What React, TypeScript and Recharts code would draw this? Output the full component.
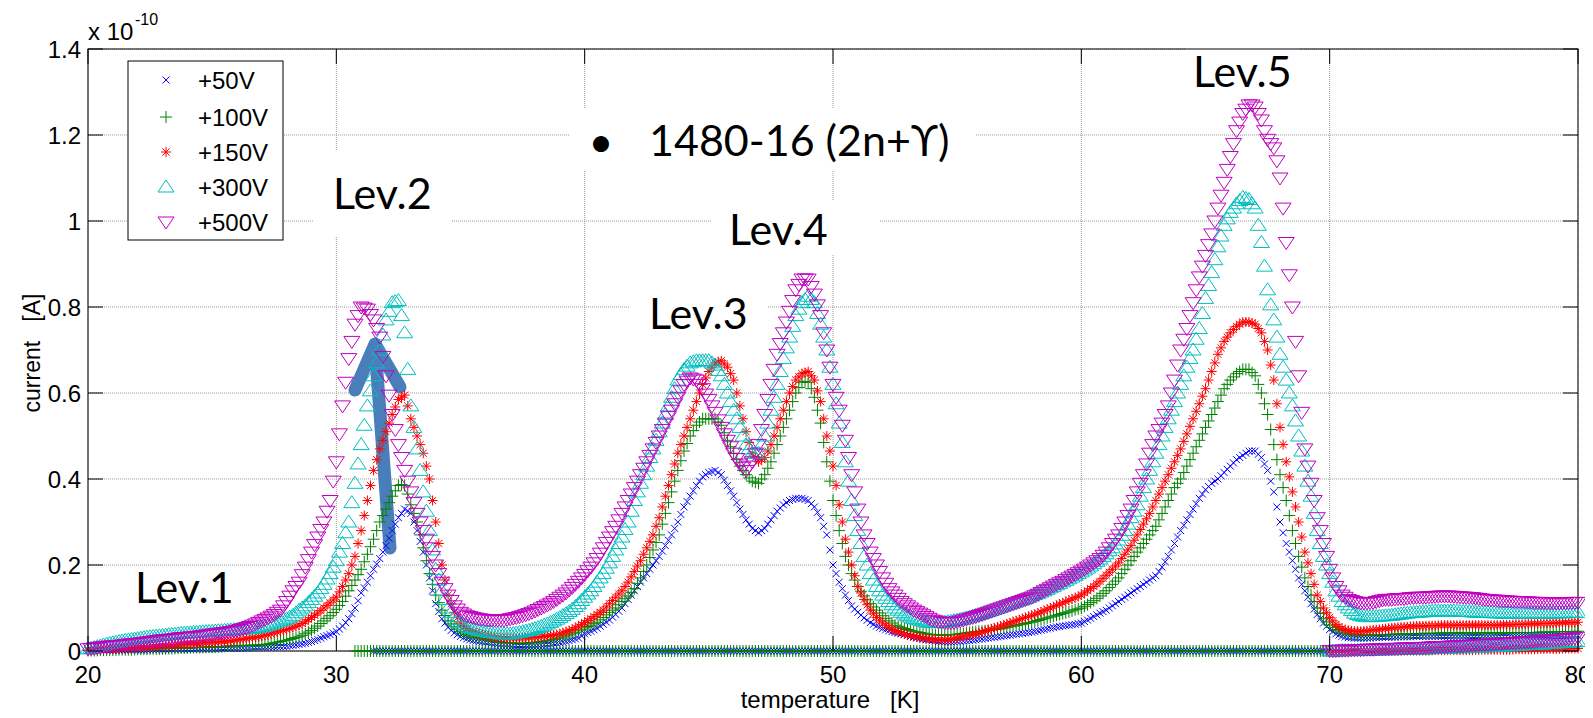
import React from 'react';
import { ScatterChart, Scatter, XAxis, YAxis, CartesianGrid, Customized } from 'recharts';

// temperature grid [K], 1/8 K sampling, one row per kelvin
const TEMPS = [
  20, 20.125, 20.25, 20.375, 20.5, 20.625, 20.75, 20.875,
  21, 21.125, 21.25, 21.375, 21.5, 21.625, 21.75, 21.875,
  22, 22.125, 22.25, 22.375, 22.5, 22.625, 22.75, 22.875,
  23, 23.125, 23.25, 23.375, 23.5, 23.625, 23.75, 23.875,
  24, 24.125, 24.25, 24.375, 24.5, 24.625, 24.75, 24.875,
  25, 25.125, 25.25, 25.375, 25.5, 25.625, 25.75, 25.875,
  26, 26.125, 26.25, 26.375, 26.5, 26.625, 26.75, 26.875,
  27, 27.125, 27.25, 27.375, 27.5, 27.625, 27.75, 27.875,
  28, 28.125, 28.25, 28.375, 28.5, 28.625, 28.75, 28.875,
  29, 29.125, 29.25, 29.375, 29.5, 29.625, 29.75, 29.875,
  30, 30.125, 30.25, 30.375, 30.5, 30.625, 30.75, 30.875,
  31, 31.125, 31.25, 31.375, 31.5, 31.625, 31.75, 31.875,
  32, 32.125, 32.25, 32.375, 32.5, 32.625, 32.75, 32.875,
  33, 33.125, 33.25, 33.375, 33.5, 33.625, 33.75, 33.875,
  34, 34.125, 34.25, 34.375, 34.5, 34.625, 34.75, 34.875,
  35, 35.125, 35.25, 35.375, 35.5, 35.625, 35.75, 35.875,
  36, 36.125, 36.25, 36.375, 36.5, 36.625, 36.75, 36.875,
  37, 37.125, 37.25, 37.375, 37.5, 37.625, 37.75, 37.875,
  38, 38.125, 38.25, 38.375, 38.5, 38.625, 38.75, 38.875,
  39, 39.125, 39.25, 39.375, 39.5, 39.625, 39.75, 39.875,
  40, 40.125, 40.25, 40.375, 40.5, 40.625, 40.75, 40.875,
  41, 41.125, 41.25, 41.375, 41.5, 41.625, 41.75, 41.875,
  42, 42.125, 42.25, 42.375, 42.5, 42.625, 42.75, 42.875,
  43, 43.125, 43.25, 43.375, 43.5, 43.625, 43.75, 43.875,
  44, 44.125, 44.25, 44.375, 44.5, 44.625, 44.75, 44.875,
  45, 45.125, 45.25, 45.375, 45.5, 45.625, 45.75, 45.875,
  46, 46.125, 46.25, 46.375, 46.5, 46.625, 46.75, 46.875,
  47, 47.125, 47.25, 47.375, 47.5, 47.625, 47.75, 47.875,
  48, 48.125, 48.25, 48.375, 48.5, 48.625, 48.75, 48.875,
  49, 49.125, 49.25, 49.375, 49.5, 49.625, 49.75, 49.875,
  50, 50.125, 50.25, 50.375, 50.5, 50.625, 50.75, 50.875,
  51, 51.125, 51.25, 51.375, 51.5, 51.625, 51.75, 51.875,
  52, 52.125, 52.25, 52.375, 52.5, 52.625, 52.75, 52.875,
  53, 53.125, 53.25, 53.375, 53.5, 53.625, 53.75, 53.875,
  54, 54.125, 54.25, 54.375, 54.5, 54.625, 54.75, 54.875,
  55, 55.125, 55.25, 55.375, 55.5, 55.625, 55.75, 55.875,
  56, 56.125, 56.25, 56.375, 56.5, 56.625, 56.75, 56.875,
  57, 57.125, 57.25, 57.375, 57.5, 57.625, 57.75, 57.875,
  58, 58.125, 58.25, 58.375, 58.5, 58.625, 58.75, 58.875,
  59, 59.125, 59.25, 59.375, 59.5, 59.625, 59.75, 59.875,
  60, 60.125, 60.25, 60.375, 60.5, 60.625, 60.75, 60.875,
  61, 61.125, 61.25, 61.375, 61.5, 61.625, 61.75, 61.875,
  62, 62.125, 62.25, 62.375, 62.5, 62.625, 62.75, 62.875,
  63, 63.125, 63.25, 63.375, 63.5, 63.625, 63.75, 63.875,
  64, 64.125, 64.25, 64.375, 64.5, 64.625, 64.75, 64.875,
  65, 65.125, 65.25, 65.375, 65.5, 65.625, 65.75, 65.875,
  66, 66.125, 66.25, 66.375, 66.5, 66.625, 66.75, 66.875,
  67, 67.125, 67.25, 67.375, 67.5, 67.625, 67.75, 67.875,
  68, 68.125, 68.25, 68.375, 68.5, 68.625, 68.75, 68.875,
  69, 69.125, 69.25, 69.375, 69.5, 69.625, 69.75, 69.875,
  70, 70.125, 70.25, 70.375, 70.5, 70.625, 70.75, 70.875,
  71, 71.125, 71.25, 71.375, 71.5, 71.625, 71.75, 71.875,
  72, 72.125, 72.25, 72.375, 72.5, 72.625, 72.75, 72.875,
  73, 73.125, 73.25, 73.375, 73.5, 73.625, 73.75, 73.875,
  74, 74.125, 74.25, 74.375, 74.5, 74.625, 74.75, 74.875,
  75, 75.125, 75.25, 75.375, 75.5, 75.625, 75.75, 75.875,
  76, 76.125, 76.25, 76.375, 76.5, 76.625, 76.75, 76.875,
  77, 77.125, 77.25, 77.375, 77.5, 77.625, 77.75, 77.875,
  78, 78.125, 78.25, 78.375, 78.5, 78.625, 78.75, 78.875,
  79, 79.125, 79.25, 79.375, 79.5, 79.625, 79.75, 79.875,
  80,
];

// current [x 1e-10 A], one row per kelvin
const I_50V = [
  .001, .001, .001, .001, .001, .001, .001, .001, // 20
  .001, .0015, .002, .002, .002, .002, .002, .002, // 21
  .002, .002, .002, .0025, .003, .003, .003, .003, // 22
  .003, .003, .003, .0035, .004, .004, .004, .004, // 23
  .004, .004, .004, .0045, .005, .005, .005, .005, // 24
  .005, .005, .005, .0055, .006, .006, .006, .006, // 25
  .006, .0065, .007, .007, .007, .0075, .008, .008, // 26
  .008, .0085, .009, .0095, .01, .01, .01, .0105, // 27
  .011, .012, .013, .014, .015, .0165, .018, .02, // 28
  .022, .0245, .027, .03, .033, .0355, .038, .0415, // 29
  .045, .051, .058, .066, .075, .087, .1, .117, // 30
  .135, .147, .16, .175, .19, .202, .215, .23, // 31
  .245, .262, .28, .295, .31, .32, .33, .326, // 32
  .32, .3, .28, .255, .23, .2, .17, .14, // 33
  .11, .092, .075, .065, .055, .048, .042, .038, // 34
  .034, .031, .028, .026, .024, .023, .022, .021, // 35
  .02, .019, .018, .017, .016, .0155, .015, .0145, // 36
  .014, .0135, .013, .013, .013, .013, .013, .013, // 37
  .013, .0135, .014, .0145, .015, .016, .017, .018, // 38
  .019, .0205, .022, .024, .026, .028, .03, .035, // 39
  .04, .043, .046, .0495, .053, .0575, .062, .067, // 40
  .072, .0785, .085, .0925, .1, .11, .12, .13, // 41
  .14, .15, .16, .17, .18, .19, .2, .21, // 42
  .22, .2325, .245, .2575, .27, .285, .3, .3175, // 43
  .335, .3475, .36, .3725, .385, .395, .405, .41, // 44
  .415, .4175, .42, .415, .41, .3975, .385, .3725, // 45
  .36, .345, .33, .3175, .305, .295, .285, .28, // 46
  .275, .28, .285, .295, .305, .315, .325, .3325, // 47
  .34, .345, .35, .3525, .355, .355, .355, .3525, // 48
  .35, .3425, .335, .3225, .31, .29, .27, .235, // 49
  .2, .18, .16, .145, .13, .1175, .105, .0975, // 50
  .09, .0835, .077, .0715, .066, .062, .058, .055, // 51
  .052, .0495, .047, .045, .043, .0415, .04, .038, // 52
  .036, .034, .032, .0305, .029, .0275, .026, .025, // 53
  .024, .023, .022, .0215, .021, .021, .021, .0215, // 54
  .022, .0225, .023, .0235, .024, .025, .026, .027, // 55
  .028, .029, .03, .031, .032, .033, .034, .035, // 56
  .036, .037, .038, .039, .04, .041, .042, .043, // 57
  .044, .0455, .047, .0485, .05, .0515, .053, .0545, // 58
  .056, .057, .058, .059, .06, .061, .062, .0635, // 59
  .065, .0685, .072, .076, .08, .084, .088, .0915, // 60
  .095, .1, .105, .11, .115, .12, .125, .13, // 61
  .135, .14, .145, .15, .155, .16, .165, .17, // 62
  .175, .185, .195, .2075, .22, .235, .25, .265, // 63
  .28, .2925, .305, .3175, .33, .3425, .355, .365, // 64
  .375, .3825, .39, .395, .4, .4075, .415, .4225, // 65
  .43, .4375, .445, .45, .455, .46, .465, .465, // 66
  .465, .4575, .45, .435, .42, .395, .37, .335, // 67
  .3, .275, .25, .23, .21, .19, .17, .155, // 68
  .14, .125, .11, .0975, .085, .075, .065, .0575, // 69
  .05, .045, .04, .037, .034, .0325, .031, .0305, // 70
  .03, .03, .03, .03, .03, .0305, .031, .031, // 71
  .031, .0315, .032, .032, .032, .0325, .033, .033, // 72
  .033, .033, .033, .0335, .034, .034, .034, .034, // 73
  .034, .034, .034, .034, .034, .034, .034, .034, // 74
  .034, .034, .034, .034, .034, .034, .034, .034, // 75
  .034, .034, .034, .034, .034, .034, .034, .034, // 76
  .034, .034, .034, .0345, .035, .035, .035, .035, // 77
  .035, .035, .035, .035, .035, .035, .035, .035, // 78
  .035, .0355, .036, .036, .036, .036, .036, .036, // 79
  .036,
];

const I_100V = [
  .001, .001, .001, .0015, .002, .002, .002, .002, // 20
  .002, .0025, .003, .003, .003, .003, .003, .0035, // 21
  .004, .004, .004, .0045, .005, .005, .005, .005, // 22
  .005, .0055, .006, .006, .006, .0065, .007, .007, // 23
  .007, .0075, .008, .008, .008, .0085, .009, .009, // 24
  .009, .0095, .01, .0105, .011, .0115, .012, .012, // 25
  .012, .0125, .013, .013, .013, .0135, .014, .014, // 26
  .014, .015, .016, .0175, .019, .0205, .022, .0235, // 27
  .025, .027, .029, .031, .033, .0365, .04, .044, // 28
  .048, .053, .058, .064, .07, .076, .082, .0895, // 29
  .097, .106, .115, .1275, .14, .1525, .165, .1775, // 30
  .19, .2075, .225, .2425, .26, .28, .3, .315, // 31
  .33, .345, .36, .3725, .385, .387, .385, .365, // 32
  .34, .32, .3, .27, .24, .21, .18, .155, // 33
  .13, .1125, .095, .0825, .07, .063, .056, .0505, // 34
  .045, .0415, .038, .0355, .033, .0315, .03, .0285, // 35
  .027, .0255, .024, .023, .022, .021, .02, .0195, // 36
  .019, .0185, .018, .018, .018, .0185, .019, .0195, // 37
  .02, .021, .022, .023, .024, .0255, .027, .0285, // 38
  .03, .0325, .035, .0375, .04, .0435, .047, .0505, // 39
  .054, .057, .06, .0635, .067, .0725, .078, .084, // 40
  .09, .095, .1, .1075, .115, .1215, .128, .1365, // 41
  .145, .1575, .17, .185, .2, .2175, .235, .2525, // 42
  .27, .295, .32, .345, .37, .395, .42, .4425, // 43
  .465, .4825, .5, .5125, .525, .5325, .54, .54, // 44
  .54, .54, .54, .5325, .525, .5075, .49, .475, // 45
  .46, .445, .43, .42, .41, .4025, .395, .3925, // 46
  .39, .4, .41, .425, .44, .46, .48, .5, // 47
  .52, .54, .56, .58, .6, .6125, .625, .627, // 48
  .625, .61, .59, .56, .53, .485, .44, .395, // 49
  .35, .315, .28, .25, .22, .2, .18, .165, // 50
  .15, .139, .128, .119, .11, .1025, .095, .0885, // 51
  .082, .076, .07, .065, .06, .0575, .055, .0525, // 52
  .05, .048, .046, .0445, .043, .0415, .04, .039, // 53
  .038, .0375, .037, .037, .037, .0375, .038, .0385, // 54
  .039, .04, .041, .042, .043, .044, .045, .0455, // 55
  .046, .047, .048, .049, .05, .051, .052, .0535, // 56
  .055, .0565, .058, .0595, .061, .0625, .064, .0655, // 57
  .067, .069, .071, .073, .075, .077, .079, .081, // 58
  .083, .085, .087, .089, .091, .0935, .096, .098, // 59
  .1, .104, .108, .1125, .117, .1225, .128, .134, // 60
  .14, .1475, .155, .1625, .17, .18, .19, .2, // 61
  .21, .22, .23, .24, .25, .26, .27, .28, // 62
  .29, .305, .32, .335, .35, .365, .38, .39, // 63
  .4, .415, .43, .445, .46, .475, .49, .505, // 64
  .52, .535, .55, .565, .58, .595, .61, .62, // 65
  .63, .6375, .645, .65, .655, .655, .655, .6475, // 66
  .64, .62, .6, .575, .55, .515, .48, .445, // 67
  .41, .38, .35, .315, .28, .25, .22, .195, // 68
  .17, .15, .13, .115, .1, .0875, .075, .0675, // 69
  .06, .055, .05, .047, .044, .042, .04, .039, // 70
  .038, .0375, .037, .037, .037, .037, .037, .0375, // 71
  .038, .038, .038, .0385, .039, .039, .039, .0395, // 72
  .04, .04, .04, .04, .04, .0405, .041, .041, // 73
  .041, .041, .041, .0415, .042, .042, .042, .042, // 74
  .042, .042, .042, .042, .042, .042, .042, .042, // 75
  .042, .042, .042, .042, .042, .042, .042, .042, // 76
  .042, .042, .042, .0425, .043, .043, .043, .043, // 77
  .043, .043, .043, .0435, .044, .044, .044, .044, // 78
  .044, .0445, .045, .045, .045, .045, .045, .0455, // 79
  .046,
];

const I_150V = [
  .002, .0025, .003, .003, .003, .0035, .004, .004, // 20
  .004, .0045, .005, .0055, .006, .0065, .007, .0075, // 21
  .008, .0085, .009, .0095, .01, .0105, .011, .0115, // 22
  .012, .0125, .013, .0135, .014, .0145, .015, .0155, // 23
  .016, .0165, .017, .0175, .018, .0185, .019, .0195, // 24
  .02, .0205, .021, .0215, .022, .023, .024, .025, // 25
  .026, .027, .028, .029, .03, .031, .032, .0335, // 26
  .035, .0365, .038, .04, .042, .044, .046, .048, // 27
  .05, .0525, .055, .0575, .06, .064, .068, .073, // 28
  .078, .083, .088, .094, .1, .106, .112, .1185, // 29
  .125, .1375, .15, .165, .18, .2, .22, .25, // 30
  .28, .315, .35, .385, .42, .445, .47, .49, // 31
  .51, .53, .55, .5675, .585, .59, .595, .57, // 32
  .54, .52, .5, .48, .46, .43, .4, .35, // 33
  .3, .25, .2, .165, .13, .11, .09, .0775, // 34
  .065, .0585, .052, .0485, .045, .0425, .04, .038, // 35
  .036, .0345, .033, .032, .031, .0305, .03, .03, // 36
  .03, .03, .03, .03, .03, .0305, .031, .0315, // 37
  .032, .0325, .033, .034, .035, .036, .037, .0385, // 38
  .04, .0425, .045, .0475, .05, .054, .058, .062, // 39
  .066, .0705, .075, .08, .085, .09, .095, .1025, // 40
  .11, .1175, .125, .1325, .14, .15, .16, .1725, // 41
  .185, .1975, .21, .225, .24, .255, .27, .29, // 42
  .31, .335, .36, .385, .41, .435, .46, .48, // 43
  .5, .52, .54, .56, .58, .6, .62, .635, // 44
  .65, .66, .67, .6725, .675, .6675, .66, .645, // 45
  .63, .6, .57, .54, .51, .485, .46, .45, // 46
  .44, .445, .45, .465, .48, .5, .52, .54, // 47
  .56, .58, .6, .615, .63, .6375, .645, .6475, // 48
  .65, .64, .63, .605, .58, .54, .5, .465, // 49
  .43, .385, .34, .3, .26, .23, .2, .175, // 50
  .15, .135, .12, .1075, .095, .0865, .078, .0715, // 51
  .065, .06, .055, .051, .047, .0445, .042, .0395, // 52
  .037, .0355, .034, .0325, .031, .03, .029, .028, // 53
  .027, .0265, .026, .026, .026, .0265, .027, .0285, // 54
  .03, .0315, .033, .035, .037, .0385, .04, .042, // 55
  .044, .046, .048, .0505, .053, .0555, .058, .0605, // 56
  .063, .0655, .068, .0705, .073, .0755, .078, .0805, // 57
  .083, .0855, .088, .091, .094, .097, .1, .103, // 58
  .106, .109, .112, .115, .118, .121, .124, .127, // 59
  .13, .135, .14, .145, .15, .156, .162, .169, // 60
  .176, .183, .19, .1975, .205, .215, .225, .235, // 61
  .245, .2575, .27, .2825, .295, .3075, .32, .335, // 62
  .35, .365, .38, .395, .41, .425, .44, .455, // 63
  .47, .4875, .505, .5225, .54, .5575, .575, .5925, // 64
  .61, .63, .65, .67, .69, .705, .72, .73, // 65
  .74, .7475, .755, .76, .765, .765, .765, .7625, // 66
  .76, .75, .74, .72, .7, .665, .63, .575, // 67
  .52, .48, .44, .405, .37, .335, .3, .265, // 68
  .23, .205, .18, .155, .13, .115, .1, .089, // 69
  .078, .07, .062, .057, .052, .05, .048, .047, // 70
  .046, .046, .046, .0465, .047, .048, .049, .0495, // 71
  .05, .051, .052, .053, .054, .0545, .055, .0555, // 72
  .056, .0565, .057, .0575, .058, .058, .058, .0585, // 73
  .059, .059, .059, .0595, .06, .06, .06, .06, // 74
  .06, .06, .06, .06, .06, .06, .06, .06, // 75
  .06, .06, .06, .06, .06, .06, .06, .0605, // 76
  .061, .061, .061, .0615, .062, .062, .062, .0625, // 77
  .063, .063, .063, .0635, .064, .064, .064, .0645, // 78
  .065, .065, .065, .0655, .066, .066, .066, .0665, // 79
  .067,
];

const I_300V = [
  .005, .0065, .008, .01, .012, .014, .016, .0175, // 20
  .019, .0205, .022, .0235, .025, .026, .027, .028, // 21
  .029, .03, .031, .032, .033, .034, .035, .0355, // 22
  .036, .037, .038, .0385, .039, .04, .041, .0415, // 23
  .042, .0425, .043, .0435, .044, .0445, .045, .0455, // 24
  .046, .0465, .047, .0475, .048, .0485, .049, .0495, // 25
  .05, .0505, .051, .0515, .052, .053, .054, .055, // 26
  .056, .058, .06, .0625, .065, .0675, .07, .0725, // 27
  .075, .079, .083, .089, .095, .1, .105, .1125, // 28
  .12, .1275, .135, .145, .155, .1675, .18, .195, // 29
  .21, .23, .25, .275, .3, .345, .39, .435, // 30
  .48, .525, .57, .605, .64, .67, .7, .735, // 31
  .77, .79, .81, .8125, .815, .78, .74, .655, // 32
  .57, .52, .47, .42, .37, .325, .28, .235, // 33
  .19, .165, .14, .12, .1, .09, .08, .073, // 34
  .066, .062, .058, .055, .052, .05, .048, .0465, // 35
  .045, .044, .043, .042, .041, .0405, .04, .04, // 36
  .04, .041, .042, .0435, .045, .0465, .048, .05, // 37
  .052, .0545, .057, .06, .063, .0665, .07, .074, // 38
  .078, .0825, .087, .092, .097, .1035, .11, .1175, // 39
  .125, .1325, .14, .15, .16, .17, .18, .1925, // 40
  .205, .22, .235, .25, .265, .2825, .3, .325, // 41
  .35, .37, .39, .41, .43, .45, .47, .49, // 42
  .51, .53, .55, .57, .59, .61, .63, .6425, // 43
  .655, .6625, .67, .6725, .675, .675, .675, .675, // 44
  .675, .67, .665, .6525, .64, .62, .6, .58, // 45
  .56, .54, .52, .5, .48, .47, .46, .46, // 46
  .46, .48, .5, .53, .56, .59, .62, .65, // 47
  .68, .705, .73, .755, .78, .795, .81, .8175, // 48
  .825, .8175, .81, .785, .76, .73, .7, .66, // 49
  .62, .575, .53, .485, .44, .395, .35, .315, // 50
  .28, .25, .22, .2, .18, .165, .15, .14, // 51
  .13, .1225, .115, .1075, .1, .095, .09, .086, // 52
  .082, .079, .076, .074, .072, .07, .068, .067, // 53
  .066, .066, .066, .0665, .067, .068, .069, .0705, // 54
  .072, .0735, .075, .077, .079, .081, .083, .085, // 55
  .087, .0895, .092, .0945, .097, .0995, .102, .1045, // 56
  .107, .1095, .112, .1145, .117, .1195, .122, .125, // 57
  .128, .131, .134, .137, .14, .1435, .147, .1505, // 58
  .154, .1575, .161, .1645, .168, .172, .176, .18, // 59
  .184, .1885, .193, .198, .203, .2085, .214, .22, // 60
  .226, .233, .24, .249, .258, .269, .28, .295, // 61
  .31, .325, .34, .36, .38, .4, .42, .44, // 62
  .46, .48, .5, .52, .54, .56, .58, .6, // 63
  .62, .64, .66, .68, .7, .725, .75, .785, // 64
  .82, .85, .88, .91, .94, .965, .99, 1.005, // 65
  1.02, 1.03, 1.04, 1.0475, 1.055, 1.0525, 1.05, 1.04, // 66
  1.03, .99, .95, .895, .84, .805, .77, .73, // 67
  .69, .66, .63, .6, .57, .535, .5, .465, // 68
  .43, .395, .36, .32, .28, .25, .22, .2, // 69
  .18, .16, .14, .1275, .115, .1075, .1, .094, // 70
  .088, .085, .082, .081, .08, .08, .08, .0805, // 71
  .081, .0815, .082, .0825, .083, .084, .085, .086, // 72
  .087, .088, .089, .0895, .09, .0905, .091, .0915, // 73
  .092, .0925, .093, .093, .093, .093, .093, .093, // 74
  .093, .0925, .092, .092, .092, .0915, .091, .0905, // 75
  .09, .09, .09, .0895, .089, .089, .089, .0885, // 76
  .088, .088, .088, .088, .088, .088, .088, .088, // 77
  .088, .088, .088, .088, .088, .088, .088, .088, // 78
  .088, .0885, .089, .089, .089, .0895, .09, .09, // 79
  .09,
];

const I_500V = [
  .005, .006, .007, .008, .009, .01, .011, .0115, // 20
  .012, .0125, .013, .014, .015, .016, .017, .0175, // 21
  .018, .019, .02, .021, .022, .023, .024, .025, // 22
  .026, .0265, .027, .028, .029, .03, .031, .0315, // 23
  .032, .0325, .033, .034, .035, .036, .037, .038, // 24
  .039, .04, .041, .042, .043, .044, .045, .0465, // 25
  .048, .05, .052, .0545, .057, .06, .063, .0665, // 26
  .07, .0735, .077, .081, .085, .09, .095, .105, // 27
  .115, .1275, .14, .15, .16, .1775, .195, .2125, // 28
  .23, .2475, .265, .2825, .3, .325, .35, .395, // 29
  .44, .505, .57, .625, .68, .72, .76, .78, // 30
  .8, .7975, .795, .7825, .77, .75, .73, .685, // 31
  .64, .595, .55, .515, .48, .45, .42, .395, // 32
  .37, .345, .32, .3, .28, .26, .24, .22, // 33
  .2, .18, .16, .145, .13, .1175, .105, .0975, // 34
  .09, .086, .082, .08, .078, .0765, .075, .074, // 35
  .073, .0725, .072, .072, .072, .072, .072, .0735, // 36
  .075, .0765, .078, .08, .082, .0845, .087, .09, // 37
  .093, .0965, .1, .1035, .107, .111, .115, .12, // 38
  .125, .13, .135, .1415, .148, .155, .162, .17, // 39
  .178, .1865, .195, .205, .215, .2275, .24, .2525, // 40
  .265, .2775, .29, .305, .32, .335, .35, .365, // 41
  .38, .395, .41, .425, .44, .455, .47, .485, // 42
  .5, .515, .53, .545, .56, .575, .59, .605, // 43
  .62, .6275, .635, .6325, .63, .62, .61, .5975, // 44
  .585, .57, .555, .5375, .52, .505, .49, .475, // 45
  .46, .4475, .435, .4275, .42, .43, .44, .46, // 46
  .48, .515, .55, .585, .62, .655, .69, .715, // 47
  .74, .765, .79, .815, .84, .8525, .865, .865, // 48
  .865, .8475, .83, .805, .78, .74, .7, .66, // 49
  .62, .59, .56, .525, .49, .45, .41, .37, // 50
  .33, .3, .27, .25, .23, .215, .2, .185, // 51
  .17, .1575, .145, .1375, .13, .1225, .115, .11, // 52
  .105, .1, .095, .0915, .088, .084, .08, .076, // 53
  .072, .07, .068, .067, .066, .066, .066, .067, // 54
  .068, .07, .072, .074, .076, .078, .08, .0825, // 55
  .085, .0875, .09, .0925, .095, .0975, .1, .1025, // 56
  .105, .1075, .11, .1125, .115, .1175, .12, .1225, // 57
  .125, .1285, .132, .136, .14, .1435, .147, .151, // 58
  .155, .1585, .162, .166, .17, .174, .178, .182, // 59
  .186, .1905, .195, .2, .205, .21, .215, .2225, // 60
  .23, .24, .25, .26, .27, .285, .3, .315, // 61
  .33, .35, .37, .39, .41, .435, .46, .48, // 62
  .5, .515, .53, .55, .57, .6, .63, .665, // 63
  .7, .725, .75, .78, .81, .84, .87, .895, // 64
  .92, .945, .97, 1.0, 1.03, 1.06, 1.09, 1.12, // 65
  1.15, 1.18, 1.21, 1.23, 1.25, 1.26, 1.27, 1.27, // 66
  1.265, 1.25, 1.235, 1.21, 1.19, 1.18, 1.17, 1.14, // 67
  1.1, 1.03, .95, .875, .8, .72, .64, .555, // 68
  .47, .43, .39, .35, .31, .28, .25, .22, // 69
  .19, .17, .15, .14, .13, .125, .12, .1175, // 70
  .115, .1135, .112, .112, .112, .1125, .113, .115, // 71
  .117, .1185, .12, .12, .12, .121, .122, .122, // 72
  .122, .123, .124, .1245, .125, .125, .125, .1255, // 73
  .126, .1265, .127, .1275, .128, .128, .128, .1275, // 74
  .127, .1265, .126, .1255, .125, .1245, .124, .123, // 75
  .122, .121, .12, .1195, .119, .1185, .118, .1175, // 76
  .117, .1165, .116, .1155, .115, .115, .115, .1145, // 77
  .114, .1135, .113, .113, .113, .1125, .112, .112, // 78
  .112, .112, .112, .112, .112, .1125, .113, .113, // 79
  .113,
];

// return sweep lying on the baseline: 100 V and 50 V from ~31 K to 70 K
const RET_100V_T = TEMPS.slice(86, 401); // 30.75 .. 70
const RET_100V = [
  0, 0, // 30.75
  0, 0, 0, 0, 0, 0, 0, 0, 0, 0, 0, 0, 0, 0, 0, 0, // 31-32
  0, 0, 0, 0, 0, 0, 0, 0, 0, 0, 0, 0, 0, 0, 0, 0, // 33-34
  0, 0, 0, 0, 0, 0, 0, 0, 0, 0, 0, 0, 0, 0, 0, 0, // 35-36
  0, 0, 0, 0, 0, 0, 0, 0, 0, 0, 0, 0, 0, 0, 0, 0, // 37-38
  0, 0, 0, 0, 0, 0, 0, 0, 0, 0, 0, 0, 0, 0, 0, 0, // 39-40
  0, 0, 0, 0, 0, 0, 0, 0, 0, 0, 0, 0, 0, 0, 0, 0, // 41-42
  0, 0, 0, 0, 0, 0, 0, 0, 0, 0, 0, 0, 0, 0, 0, 0, // 43-44
  0, 0, 0, 0, 0, 0, 0, 0, 0, 0, 0, 0, 0, 0, 0, 0, // 45-46
  0, 0, 0, 0, 0, 0, 0, 0, 0, 0, 0, 0, 0, 0, 0, 0, // 47-48
  0, 0, 0, 0, 0, 0, 0, 0, 0, 0, 0, 0, 0, 0, 0, 0, // 49-50
  0, 0, 0, 0, 0, 0, 0, 0, 0, 0, 0, 0, 0, 0, 0, 0, // 51-52
  0, 0, 0, 0, 0, 0, 0, 0, 0, 0, 0, 0, 0, 0, 0, 0, // 53-54
  0, 0, 0, 0, 0, 0, 0, 0, 0, 0, 0, 0, 0, 0, 0, 0, // 55-56
  0, 0, 0, 0, 0, 0, 0, 0, 0, 0, 0, 0, 0, 0, 0, 0, // 57-58
  0, 0, 0, 0, 0, 0, 0, 0, 0, 0, 0, 0, 0, 0, 0, 0, // 59-60
  0, 0, 0, 0, 0, 0, 0, 0, 0, 0, 0, 0, 0, 0, 0, 0, // 61-62
  0, 0, 0, 0, 0, 0, 0, 0, 0, 0, 0, 0, 0, 0, 0, 0, // 63-64
  0, 0, 0, 0, 0, 0, 0, 0, 0, 0, 0, 0, 0, 0, 0, 0, // 65-66
  0, 0, 0, 0, 0, 0, 0, 0, 0, 0, 0, 0, 0, 0, 0, 0, // 67-68
  0, 0, 0, 0, 0, 0, 0, 0, // 69
  0, // 70
];
const RET_50V_T = TEMPS.slice(92, 401); // 31.5 .. 70
const RET_50V = [
  0, 0, 0, 0, // 31.5
  0, 0, 0, 0, 0, 0, 0, 0, 0, 0, 0, 0, 0, 0, 0, 0, // 32-33
  0, 0, 0, 0, 0, 0, 0, 0, 0, 0, 0, 0, 0, 0, 0, 0, // 34-35
  0, 0, 0, 0, 0, 0, 0, 0, 0, 0, 0, 0, 0, 0, 0, 0, // 36-37
  0, 0, 0, 0, 0, 0, 0, 0, 0, 0, 0, 0, 0, 0, 0, 0, // 38-39
  0, 0, 0, 0, 0, 0, 0, 0, 0, 0, 0, 0, 0, 0, 0, 0, // 40-41
  0, 0, 0, 0, 0, 0, 0, 0, 0, 0, 0, 0, 0, 0, 0, 0, // 42-43
  0, 0, 0, 0, 0, 0, 0, 0, 0, 0, 0, 0, 0, 0, 0, 0, // 44-45
  0, 0, 0, 0, 0, 0, 0, 0, 0, 0, 0, 0, 0, 0, 0, 0, // 46-47
  0, 0, 0, 0, 0, 0, 0, 0, 0, 0, 0, 0, 0, 0, 0, 0, // 48-49
  0, 0, 0, 0, 0, 0, 0, 0, 0, 0, 0, 0, 0, 0, 0, 0, // 50-51
  0, 0, 0, 0, 0, 0, 0, 0, 0, 0, 0, 0, 0, 0, 0, 0, // 52-53
  0, 0, 0, 0, 0, 0, 0, 0, 0, 0, 0, 0, 0, 0, 0, 0, // 54-55
  0, 0, 0, 0, 0, 0, 0, 0, 0, 0, 0, 0, 0, 0, 0, 0, // 56-57
  0, 0, 0, 0, 0, 0, 0, 0, 0, 0, 0, 0, 0, 0, 0, 0, // 58-59
  0, 0, 0, 0, 0, 0, 0, 0, 0, 0, 0, 0, 0, 0, 0, 0, // 60-61
  0, 0, 0, 0, 0, 0, 0, 0, 0, 0, 0, 0, 0, 0, 0, 0, // 62-63
  0, 0, 0, 0, 0, 0, 0, 0, 0, 0, 0, 0, 0, 0, 0, 0, // 64-65
  0, 0, 0, 0, 0, 0, 0, 0, 0, 0, 0, 0, 0, 0, 0, 0, // 66-67
  0, 0, 0, 0, 0, 0, 0, 0, 0, 0, 0, 0, 0, 0, 0, 0, // 68-69
  0, // 70
];
// return sweep of the higher biases, from 70 K to 80 K
const RET_HI_T = TEMPS.slice(400, 481);
const RET_150V = [
  0, 0, 0, 0, 0, 0, 0, 0, // 70
  0, 0, 0, 0, 0, 0, 0, 0, // 71
  0, .0005, .001, .001, .001, .001, .001, .001, // 72
  .001, .001, .001, .001, .001, .001, .001, .001, // 73
  .001, .0015, .002, .002, .002, .002, .002, .002, // 74
  .002, .002, .002, .002, .002, .002, .002, .0025, // 75
  .003, .003, .003, .003, .003, .003, .003, .003, // 76
  .003, .003, .003, .0035, .004, .004, .004, .004, // 77
  .004, .004, .004, .0045, .005, .005, .005, .005, // 78
  .005, .005, .005, .0055, .006, .006, .006, .006, // 79
  .006,
];
const RET_300V = [
  0, 0, 0, .0005, .001, .001, .001, .001, // 70
  .001, .0015, .002, .002, .002, .002, .002, .0025, // 71
  .003, .003, .003, .003, .003, .0035, .004, .004, // 72
  .004, .004, .004, .0045, .005, .005, .005, .005, // 73
  .005, .0055, .006, .006, .006, .0065, .007, .007, // 74
  .007, .0075, .008, .008, .008, .0085, .009, .009, // 75
  .009, .0095, .01, .01, .01, .0105, .011, .0115, // 76
  .012, .012, .012, .0125, .013, .0135, .014, .0145, // 77
  .015, .015, .015, .0155, .016, .0165, .017, .0175, // 78
  .018, .0185, .019, .0195, .02, .0205, .021, .0215, // 79
  .022,
];
const RET_500V = [
  .001, .001, .001, .0015, .002, .002, .002, .0025, // 70
  .003, .003, .003, .0035, .004, .004, .004, .0045, // 71
  .005, .005, .005, .0055, .006, .006, .006, .0065, // 72
  .007, .007, .007, .0075, .008, .008, .008, .0085, // 73
  .009, .0095, .01, .01, .01, .0105, .011, .0115, // 74
  .012, .012, .012, .0125, .013, .0135, .014, .0145, // 75
  .015, .015, .015, .0155, .016, .0165, .017, .0175, // 76
  .018, .0185, .019, .0195, .02, .0205, .021, .0215, // 77
  .022, .0225, .023, .0235, .024, .0245, .025, .0255, // 78
  .026, .0265, .027, .0275, .028, .029, .03, .031, // 79
  .032,
];

const SERIES_NAMES = ['+50V', '+100V', '+150V', '+300V', '+500V'];
const X_TICKS = [20, 30, 40, 50, 60, 70, 80];
const Y_TICKS = [0, 0.2, 0.4, 0.6, 0.8, 1, 1.2, 1.4];

const COLORS = ['#0000ff', '#008000', '#ff0000', '#00bfbf', '#bf00bf'];
const KINDS = ['x', 'plus', 'star', 'up', 'down'];

const W = 1585;
const H = 712;
const MARGIN = { top: 41, right: 15, bottom: 29, left: 20 };
const YAXIS_W = 60;
const XAXIS_H = 40;
const PLOT = {
  left: MARGIN.left + YAXIS_W,
  top: MARGIN.top,
  width: W - MARGIN.left - YAXIS_W - MARGIN.right,
  height: H - MARGIN.top - MARGIN.bottom - XAXIS_H,
};
const TICK_LEN = 15;
const AXIS_FONT = "'Liberation Sans', Arial, Helvetica, sans-serif";
const NOTE_FONT = "Lato, 'Open Sans', sans-serif";

const toPts = (ts: number[], vs: number[]) => ts.map((t, i) => ({ t, v: vs[i] }));

function Marker({ kind, cx, cy, color }: { kind: string; cx: number; cy: number; color: string }) {
  if (cx == null || cy == null || isNaN(cx) || isNaN(cy)) return null;
  let d = '';
  if (kind === 'x') {
    const s = 3.5;
    d = `M${cx - s},${cy - s}L${cx + s},${cy + s}M${cx - s},${cy + s}L${cx + s},${cy - s}`;
  } else if (kind === 'plus') {
    const s = 6;
    d = `M${cx - s},${cy}H${cx + s}M${cx},${cy - s}V${cy + s}`;
  } else if (kind === 'star') {
    const s = 5;
    const q = 3.6;
    d = `M${cx - s},${cy}H${cx + s}M${cx},${cy - s}V${cy + s}M${cx - q},${cy - q}L${cx + q},${cy + q}M${cx - q},${cy + q}L${cx + q},${cy - q}`;
  } else if (kind === 'up') {
    d = `M${cx},${cy - 7}L${cx + 8},${cy + 5}L${cx - 8},${cy + 5}Z`;
  } else {
    d = `M${cx - 8},${cy - 5}L${cx + 8},${cy - 5}L${cx},${cy + 7}Z`;
  }
  return <path d={d} stroke={color} strokeWidth={1} fill="none" />;
}

function XTick(props: any) {
  const { x, payload } = props;
  const bottom = PLOT.top + PLOT.height;
  return (
    <g>
      <line x1={x} x2={x} y1={bottom} y2={bottom - TICK_LEN} stroke="#000" strokeWidth={1} />
      <line x1={x} x2={x} y1={PLOT.top} y2={PLOT.top + TICK_LEN} stroke="#000" strokeWidth={1} />
      <text x={x} y={bottom + 32} textAnchor="middle" fontFamily={AXIS_FONT} fontSize={24} fill="#000">
        {payload.value}
      </text>
    </g>
  );
}

function YTick(props: any) {
  const { y, payload } = props;
  const right = PLOT.left + PLOT.width;
  return (
    <g>
      <line x1={PLOT.left} x2={PLOT.left + TICK_LEN} y1={y} y2={y} stroke="#000" strokeWidth={1} />
      <line x1={right} x2={right - TICK_LEN} y1={y} y2={y} stroke="#000" strokeWidth={1} />
      <text x={PLOT.left - 7} y={y} textAnchor="end" dominantBaseline="central" fontFamily={AXIS_FONT} fontSize={24} fill="#000">
        {String(payload.value)}
      </text>
    </g>
  );
}

function NoteBoxes() {
  return (
    <g>
      <rect x={305} y={142} width={139} height={87} fill="#fff" />
      <rect x={622} y={277} width={138} height={60} fill="#fff" />
      <rect x={703} y={192} width={168} height={55} fill="#fff" />
      <rect x={561} y={100} width={406} height={62} fill="#fff" />
      <rect x={1177} y={37} width={115} height={47} fill="#fff" />
    </g>
  );
}

function Overlay() {
  const legendRows = [72, 109, 144, 179, 214];
  return (
    <g>
      <rect x={PLOT.left} y={PLOT.top} width={PLOT.width} height={PLOT.height} fill="none" stroke="#000" strokeWidth={1} />
      {/* exponent */}
      <text x={80} y={32} fontFamily={AXIS_FONT} fontSize={24} fill="#000">x 10</text>
      <text x={127} y={17} fontFamily={AXIS_FONT} fontSize={16} fill="#000">-10</text>
      {/* axis labels */}
      <text
        x={24}
        y={345}
        transform="rotate(-90 24 345)"
        textAnchor="middle"
        dominantBaseline="central"
        fontFamily={AXIS_FONT}
        fontSize={23}
        fill="#000"
        style={{ whiteSpace: 'pre' }}
      >
        {'current   [A]'}
      </text>
      <text x={822} y={700} textAnchor="middle" fontFamily={AXIS_FONT} fontSize={24} fill="#000" style={{ whiteSpace: 'pre' }}>
        {'temperature   [K]'}
      </text>
      {/* legend */}
      <rect x={120} y={53} width={155} height={179} fill="#fff" stroke="#000" strokeWidth={1} />
      {SERIES_NAMES.map((name, i) => (
        <g key={name}>
          <Marker kind={KINDS[i]} cx={158} cy={legendRows[i]} color={COLORS[i]} />
          <text x={190} y={legendRows[i]} dominantBaseline="central" fontFamily={AXIS_FONT} fontSize={24} fill="#000">
            {name}
          </text>
        </g>
      ))}
      {/* notes */}
      <text x={127} y={595} fontFamily={NOTE_FONT} fontSize={43} fill="#000">Lev.1</text>
      <text x={325} y={201} fontFamily={NOTE_FONT} fontSize={43} fill="#000">Lev.2</text>
      <text x={641} y={321} fontFamily={NOTE_FONT} fontSize={43} fill="#000">Lev.3</text>
      <text x={721} y={237} fontFamily={NOTE_FONT} fontSize={43} fill="#000">Lev.4</text>
      <text x={1185} y={79} fontFamily={NOTE_FONT} fontSize={43} fill="#000">Lev.5</text>
      <text x={593} y={149} textAnchor="middle" fontFamily={NOTE_FONT} fontSize={43} fill="#000">•</text>
      <text x={641} y={148} fontFamily={NOTE_FONT} fontSize={43} fill="#000">1480-16 (2n+ϒ)</text>
      {/* arrow */}
      <g stroke="#4a7ebb" strokeWidth={13} fill="none" strokeLinecap="round" strokeLinejoin="round">
        <line x1={382} y1={540} x2={367} y2={338} />
        <polyline points="347,382 367,336 392,379" />
      </g>
    </g>
  );
}

export default function App() {
  const main = [I_50V, I_100V, I_150V, I_300V, I_500V].map((vs) => toPts(TEMPS, vs));
  const ret = [
    { pts: toPts(RET_50V_T, RET_50V), i: 0 },
    { pts: toPts(RET_100V_T, RET_100V), i: 1 },
    { pts: toPts(RET_HI_T, RET_150V), i: 2 },
    { pts: toPts(RET_HI_T, RET_300V), i: 3 },
    { pts: toPts(RET_HI_T, RET_500V), i: 4 },
  ];
  return (
    <div style={{ width: W, height: H }}>
      <style>{'html,body{overflow:hidden;}'}</style>
      <ScatterChart width={W} height={H} margin={MARGIN}>
        <CartesianGrid stroke="#9a9a9a" strokeDasharray="1 1" />
        <XAxis
          type="number"
          dataKey="t"
          domain={[20, 80]}
          ticks={X_TICKS}
          interval={0}
          height={XAXIS_H}
          axisLine={false}
          tickLine={false}
          tick={<XTick />}
        />
        <YAxis
          type="number"
          dataKey="v"
          domain={[0, 1.4]}
          ticks={Y_TICKS}
          interval={0}
          width={YAXIS_W}
          axisLine={false}
          tickLine={false}
          tick={<YTick />}
        />
        <Customized component={<NoteBoxes />} />
        {main.map((pts, i) => (
          <Scatter
            key={SERIES_NAMES[i]}
            name={SERIES_NAMES[i]}
            data={pts}
            isAnimationActive={false}
            shape={(p: any) => <Marker kind={KINDS[i]} cx={p.cx} cy={p.cy} color={COLORS[i]} />}
          />
        ))}
        {ret.map((r, k) => (
          <Scatter
            key={'ret' + k}
            name={SERIES_NAMES[r.i] + ' return'}
            data={r.pts}
            legendType="none"
            isAnimationActive={false}
            shape={(p: any) => <Marker kind={KINDS[r.i]} cx={p.cx} cy={p.cy} color={COLORS[r.i]} />}
          />
        ))}
        <Customized component={<Overlay />} />
      </ScatterChart>
    </div>
  );
}
